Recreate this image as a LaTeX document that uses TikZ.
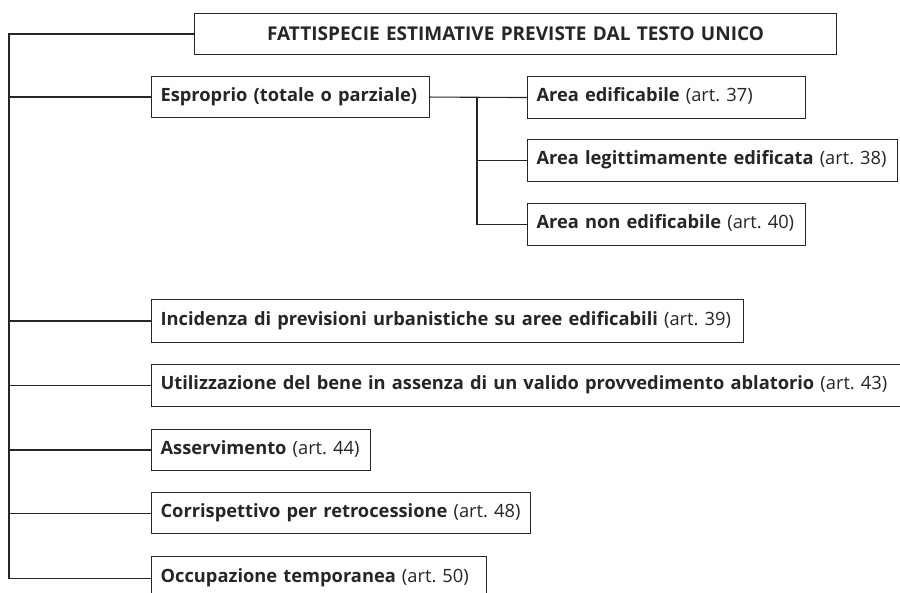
\documentclass[tikz,border=0pt]{standalone}
\usepackage{fontspec}
\setmainfont{Open Sans}
\definecolor{ink}{HTML}{262626}
\tikzset{
  box/.style={draw=ink, line width=1.1pt, anchor=north west, inner xsep=9pt, inner ysep=0pt,
    align=left, font=\fontsize{18.3}{21}\selectfont, text=ink},
  conn/.style={draw=ink, line width=1.1pt},
}
\newcommand{\bx}[7]{% name, left, top, right, bottom, bold text, plain text
  \node[box, minimum height={(#5-#3)*1pt}, text width={(#4-#2-18)*1pt}] (#1) at (#2,#3) {\strut #6#7};
}
\begin{document}
\begin{tikzpicture}[x=1pt,y=-1pt]
\fill[white] (0,0) rectangle (900,593);
\useasboundingbox[clip] (0,0) rectangle (900,593);
\node[box, anchor=north west, minimum height=41pt, align=center, text width=624pt, font=\fontsize{19}{22}\selectfont] (title) at (194,13) {\bfseries FATTISPECIE ESTIMATIVE PREVISTE DAL TESTO UNICO};
\bx{espr}{151}{76}{429}{117}{\textbf{Esproprio (totale o parziale)}}{}
\bx{aed}{527}{76}{805}{118}{\textbf{Area edificabile}}{ (art.~37)}
\bx{aleg}{527}{139}{897}{181}{\textbf{Area legittimamente edificata}}{ (art.~38)}
\bx{anon}{527}{203}{805}{245}{\textbf{Area non edificabile}}{ (art.~40)}
\bx{inc}{151}{299}{743}{342}{\textbf{Incidenza di previsioni urbanistiche su aree edificabili}}{ (art.~39)}
\bx{util}{151}{364}{930}{406}{\textbf{Utilizzazione del bene in assenza di un valido provvedimento ablatorio}}{ (art.~43)}
\bx{ass}{151}{429}{370}{470}{\textbf{Asservimento}}{ (art.~44)}
\bx{corr}{151}{492}{530}{533}{\textbf{Corrispettivo per retrocessione}}{ (art.~48)}
\bx{occ}{151}{556}{486}{600}{\textbf{Occupazione temporanea}}{ (art.~50)}
\coordinate (top) at (9,0 |- title.west);
\coordinate (bot) at (9,0 |- occ.west);
\draw[conn] (title.west) -- (top) -- (bot) -- (occ.west);
\foreach \n in {espr,inc,util,ass,corr}{\draw[conn] (top |- \n.west) -- (\n.west);}
\coordinate (sv) at (477,0 |- aed.west);
\draw[conn] (espr.east) -- (aed.west);
\draw[conn] (sv) |- (anon.west);
\draw[conn] (sv |- aleg.west) -- (aleg.west);
\end{tikzpicture}
\end{document}
